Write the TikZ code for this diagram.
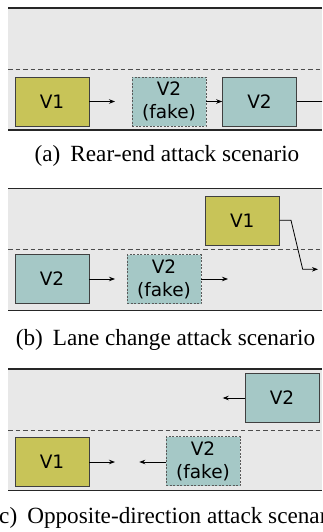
\documentclass[tikz,border=0pt]{standalone}
\usepackage{fontspec}
\setmainfont{Liberation Serif}
\setsansfont{DejaVu Sans}
\usetikzlibrary{arrows.meta,positioning}
\definecolor{roadgray}{RGB}{232,232,232}
\definecolor{atkcolor}{RGB}{200,196,88}
\definecolor{vicolor}{RGB}{165,200,198}

\begin{document}
\begin{tikzpicture}[x=1pt, y=-1pt, >={Stealth[length=6pt,width=4.5pt]},
    every node/.style={font=\sffamily\fontsize{18.5}{23}\selectfont},
    car/.style={draw=black!75, line width=0.6pt, minimum width=74pt, minimum height=49pt, inner sep=0pt, align=center},
    fakecar/.style={car, draw=black!65, dash pattern=on 2pt off 1.5pt},
    roadedge/.style={black!85, line width=1.2pt},
    laneline/.style={black!70, line width=0.9pt, dash pattern=on 4.5pt off 3pt},
    move/.style={->, line width=0.8pt},
    subcap/.style={font=\rmfamily\fontsize{23.2}{27}\selectfont}]
      \clip (0,0) rectangle (322,532);
      % (a) rear-end
      \fill[roadgray] (8,8) rectangle (322,130);
      \draw[roadedge] (8,8) -- (322,8);
      \draw[roadedge] (8,130) -- (322,130);
      \draw[laneline] (8,69) -- (322,69);
      \node[car, fill=atkcolor] (v1a) at (52,101.5) {V1};
      \node[fakecar, fill=vicolor] (fakea) at (169,101.5) {V2\\(fake)};
      \node[car, fill=vicolor] (v2a) at (259.5,101.5) {V2};
      \coordinate (v1aend) at (115,101.5);
      \coordinate (v2aend) at (332,101.5);
      \draw[move] (v1a.east) -- (v1aend);
      \draw[move] (fakea.east) -- (v2a.west);
      \draw[move] (v2a.east) -- (v2aend);
      \node[subcap] (capa) at (167,156) {(a)\hspace{10pt}Rear-end attack scenario};
      % (b) lane change
      \fill[roadgray] (8,188.3) rectangle (322,310.7);
      \draw[roadedge] (8,188.3) -- (322,188.3);
      \draw[roadedge] (8,310.7) -- (322,310.7);
      \draw[laneline] (8,249.7) -- (322,249.7);
      \node[car, fill=atkcolor] (v1b) at (242.3,220.3) {V1};
      \node[car, fill=vicolor] (v2b) at (52,279) {V2};
      \node[fakecar, fill=vicolor] (fakeb) at (164,279) {V2\\(fake)};
      \coordinate (v2bend) at (115,279);
      \coordinate (fakebend) at (228,279);
      \coordinate (v1bturn) at (291,220.3);
      \coordinate (v1bdown) at (302.7,269.3);
      \coordinate (v1bend) at (318,269.3);
      \draw[move] (v2b.east) -- (v2bend);
      \draw[move] (fakeb.east) -- (fakebend);
      \draw[move] (v1b.east) -- (v1bturn) -- (v1bdown) -- (v1bend);
      \node[subcap] (capb) at (165.5,340) {(b)\hspace{10pt}Lane change attack scenario};
      % (c) opposite direction
      \fill[roadgray] (8,369) rectangle (322,490.7);
      \draw[roadedge] (8,369) -- (322,369);
      \draw[roadedge] (8,490.7) -- (322,490.7);
      \draw[laneline] (8,430) -- (322,430);
      \node[car, fill=vicolor] (v2c) at (282,398) {V2};
      \node[car, fill=atkcolor] (v1c) at (52,462) {V1};
      \node[fakecar, fill=vicolor] (fakec) at (203,461) {V2\\(fake)};
      \coordinate (v2cend) at (222.7,398);
      \coordinate (v1cend) at (115,462);
      \coordinate (fakecend) at (139.3,462);
      \draw[move] (v2c.west) -- (v2cend);
      \draw[move] (v1c.east) -- (v1cend);
      \draw[move] (fakec.west |- v1c) -- (fakecend);
      \node[subcap] (capc) at (168.5,518) {(c)\hspace{10pt}Opposite-direction attack scenario};
\end{tikzpicture}
\end{document}
